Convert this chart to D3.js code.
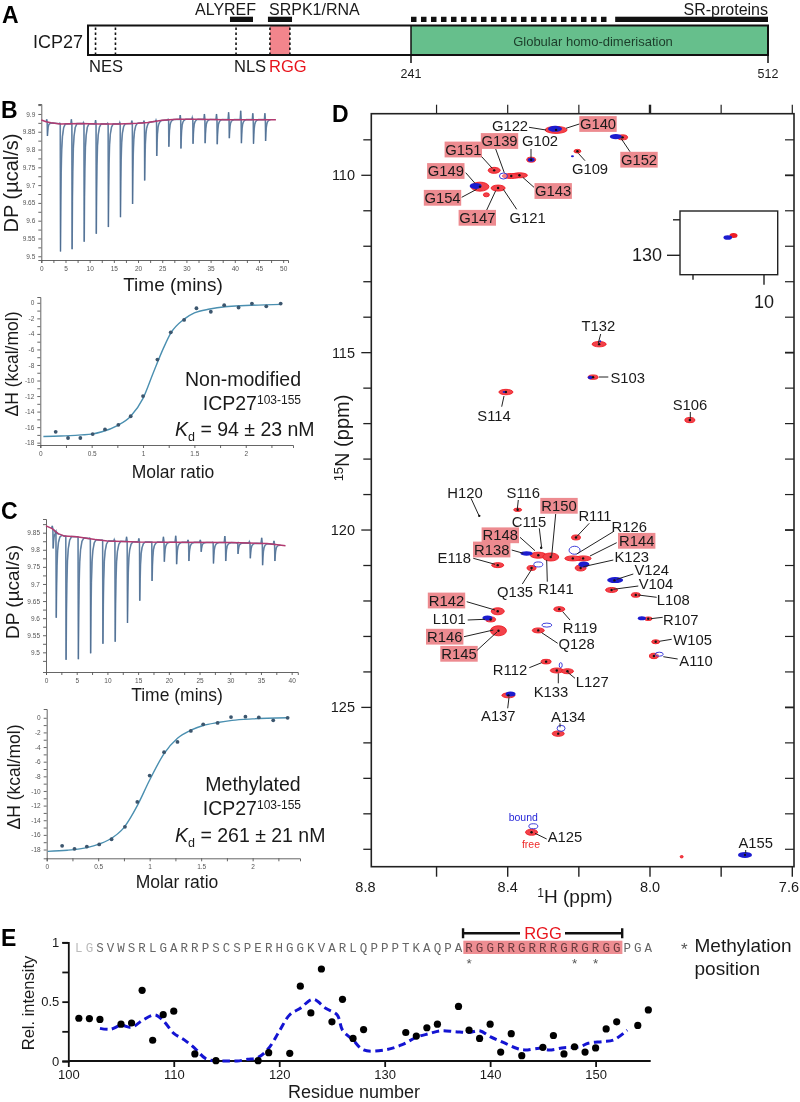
<!DOCTYPE html>
<html><head><meta charset="utf-8">
<script src="https://cdn.jsdelivr.net/npm/d3@7"></script>
<style>
html,body{margin:0;padding:0;background:#fff}
svg{display:block;filter:blur(.35px)}
text{font-family:"Liberation Sans",Arial,sans-serif;fill:#1a1a1a}
.itc text{font-size:6.5px;fill:#555}
.itc path,.itc line{stroke:#555;stroke-width:.9}
</style></head><body>
<div id="chart"></div>
<script>
// ---------- Panel A data (residues) ----------
const domainEdges=[1,241,512];
const dashResidues=[6.6,21.4,111,136.2,151];
const rggRange=[136.2,151];
const bindBars=[["ALYREF",106.5,123.6],["SRPK1/RNA",134.7,152.6],["SR-proteins",396,512]];
const dottedRange=[241,392];
// ---------- Panel B data ----------
const bInjT=[1.2,3.9,6.3,8.8,11.3,13.8,16.3,18.8,21.3,23.8,26.3,28.8,31.3,33.8,36.3,38.8,41.3,43.8,46.3];
const bInjMin=[9.838,9.5135,9.52,9.541,9.563,9.582,9.61,9.647,9.713,9.782,9.808,9.803,9.816,9.818,9.815,9.832,9.818,9.816,9.824];
const bInjUp=[9.885,9.874,9.885,9.876,9.883,9.874,9.876,9.881,9.881,9.883,9.885,9.897,9.89,9.9,9.9,9.905,9.909,9.902,9.902];
const bBaseT=[0,1,2,4,8,12,16,20,22,25,28,32,38,44,48.5];
const bBaseV=[9.883,9.878,9.875,9.872,9.873,9.872,9.872,9.874,9.876,9.882,9.885,9.885,9.884,9.884,9.884];
const molar=[0.15,0.27,0.39,0.51,0.63,0.76,0.88,1.0,1.14,1.27,1.4,1.52,1.66,1.79,1.93,2.06,2.2,2.34];
const bH=[-16.6,-17.4,-17.4,-16.9,-16.3,-15.7,-14.6,-12,-7.3,-3.8,-2.2,-0.7,-1.15,-0.3,-0.6,-0.1,-0.45,-0.1];
const bFitX=[0.03,0.2,0.4,0.5,0.6,0.75,0.88,1,1.1,1.2,1.27,1.4,1.5,1.65,1.8,2,2.35];
const bFitY=[-17.2,-17.15,-17,-16.9,-16.6,-15.8,-14.6,-12.3,-9,-5.8,-3.9,-2.1,-1.3,-0.8,-0.5,-0.35,-0.2];
// ---------- Panel C data ----------
const cInjT=[1.1,1.6,3.2,5.2,7.2,9.2,11.2,13.2,15.2,17.2,19.2,21.2,23.2,25.2,27.2,29.2,31.2,33.2,35.2,37.2];
const cInjMin=[9.804,9.601,9.478,9.48,9.497,9.525,9.531,9.586,9.651,9.709,9.765,9.758,9.767,9.794,9.76,9.767,9.788,9.775,9.755,9.767];
const cInjUp=[9.87,9.85,9.84,9.838,9.834,9.829,9.83,9.838,9.833,9.822,9.838,9.841,9.829,9.829,9.822,9.84,9.819,9.824,9.835,9.826];
const cBaseT=[0,1,2,3,5,8,10,15,20,30,36,39];
const cBaseV=[9.87,9.862,9.847,9.84,9.838,9.83,9.826,9.823,9.822,9.821,9.818,9.812];
const cH=[-17.5,-17.9,-17.6,-17.3,-16.6,-14.9,-11.5,-7.9,-4.7,-3.3,-1.8,-0.9,-0.7,0.1,0.15,0.05,-0.35,0];
const cFitX=[0.01,0.2,0.4,0.5,0.6,0.75,0.88,1,1.14,1.27,1.4,1.52,1.66,1.8,2,2.34];
const cFitY=[-18.25,-18.1,-17.7,-17.3,-16.7,-15,-12,-8.5,-4.9,-2.8,-1.7,-1.05,-0.65,-0.35,-0.15,0];
// shape of one injection after its minimum (time offset, share of depth remaining)
const recoverT=[0,0.07,0.14,0.25,0.4,0.65,1.0];
const recoverF=[1,0.62,0.38,0.2,0.1,0.03,0];
// ---------- Panel D data (1H ppm, 15N ppm) ----------
const redH=[8.264,8.077,8.334,8.204,8.438,8.367,8.39,8.478,8.46,8.427,8.372,8.208,8.188,8.217,8.195,8.314,8.279,8.428,8.333,8.108,8.04,8.428,8.448,8.426,8.255,8.314,8.005,7.984,7.989,8.292,8.262,8.232,8.398,8.258,8.333,8.143,8.405,7.888,8.1,7.911,8.16];
const redN=[108.72,108.93,109.56,109.32,109.86,110,110.02,110.32,110.55,110.36,119.43,120.21,120.8,120.8,121.07,120.71,120.76,120.99,121.07,121.69,121.83,122.29,122.52,122.84,122.23,122.83,122.5,123.15,123.55,123.71,123.96,123.98,124.66,125.74,128.52,114.76,116.11,116.9,121.42,129.21,115.69];
const redWide=[11,5,4.5,3.5,6,8,9,9,3,7,4,4.5,8,8,5.5,8,8,6,4.5,6,4.5,6.5,5,8,5.5,6,4,4,4.5,5,6.5,6,6.5,6,6,7,7,5,4,1.5,5];
const redTall=[3.5,2.5,2.5,1.8,3,2.5,2.5,4.5,2,3,1.7,2.5,2.5,2.5,3,3,4,2.5,2.5,2.5,2.3,3.5,2.5,5,2.5,2.5,1.8,2,2.7,2.3,2.5,2.5,2.5,2.7,3,2.7,2.7,2.6,2,1.2,2.2];
const blueH=[8.267,8.096,8.334,8.218,8.412,8.49,8.347,8.212,8.186,8.314,8.098,8.457,8.29,8.023,7.974,8.251,8.392,8.25,8.328,7.733,8.168,8.41,8.14];
const blueN=[108.69,108.91,109.56,109.46,110.02,110.3,120.66,120.57,120.97,120.97,121.41,122.48,122.68,122.49,123.5,123.81,124.62,125.59,128.35,129.16,115.7,116.11,114.68];
const blueWide=[7,6,3.5,1.5,4,6,6,5.5,5.5,4.5,8,5,5,4,4,1.5,5,4,4.5,7,2.5,1.5,1];
const blueTall=[3,2.7,2,1,3,3,2.3,4,3,2.5,3,2.5,2,2,2,2.5,2.5,3,2.5,3,1.7,1,1];
const blueOpen=[0,0,0,0,1,0,0,1,0,1,0,0,1,0,1,1,0,1,1,0,0,0,0];
const dotExtraH=[8.48,8.306];
const dotExtraN=[119.6,120.5];
const insetRedH=[10.086];const insetRedN=[129.44];
const insetBlueH=[10.102];const insetBlueN=[129.5];
const highlighted=["G140","G139","G151","G152","G149","G154","G147","G143","R150","R148","R138","R144","R142","R146","R145"];
// ---------- Panel E data ----------
const residues=[101,102,103,105,106,107,108,109,110,112,114,118,119,121,122,123,124,125,126,127,128,132,133,134,135,137,138,139,140,141,142,143,145,146,147,148,149,150,151,152,154,155];
const intensity=[.36,.357,.35,.31,.32,.595,.175,.39,.42,.06,.003,.003,.07,.065,.63,.405,.775,.33,.52,.19,.265,.24,.21,.28,.31,.46,.26,.19,.31,.075,.23,.045,.115,.215,.06,.12,.075,.11,.27,.33,.30,.43];
const avgRes=[103,104,105,106,107,108.2,109,110,111,112,113,114,115,116,117,118,119,120,121,122,123.2,124.4,125.5,126,127,128,130,131.6,133,134.2,135.3,136.7,138,139,140,141.3,142.5,143.3,144.7,145.6,147,148.5,149.3,150.7,151.7,153];
const avgVal=[.275,.267,.3,.284,.34,.388,.34,.233,.178,.107,.022,0,0,0,.014,.03,.107,.25,.39,.445,.52,.445,.387,.26,.177,.093,.093,.135,.2,.23,.255,.247,.24,.255,.205,.154,.107,.093,.107,.093,.112,.12,.15,.163,.177,.26];
const sequence="LGSVWSRLGARRPSCSPERHGGKVARLQPPPTKAQPARGGRRGRRRGRGRGGPGA";
const seqStart=101;
const methylated=[138,148,150];
const rggResidues=[138,152];

// ---------- Layout ----------
const W=800,H=1102;
const svg=d3.select("#chart").append("svg").attr("width",W).attr("height",H);
function txt(g,x,y,s,size,opt={}){
  const t=g.append("text").attr("x",x).attr("y",y).text(s).style("font-size",size+"px");
  if(opt.anchor)t.attr("text-anchor",opt.anchor);
  if(opt.fill)t.style("fill",opt.fill);
  if(opt.weight)t.style("font-weight",opt.weight);
  if(opt.rot!==undefined)t.attr("transform",`rotate(${opt.rot} ${x} ${y})`);
  if(opt.mid)t.attr("dominant-baseline","central");
  return t;
}
[["A",2,23],["B",1,118],["C",1,519],["D",332,122],["E",1,946]].forEach(d=>txt(svg,d[1],d[2],d[0],23,{weight:"bold",fill:"#000"}));

// ---------- Panel A ----------
(function(){
 const g=svg.append("g");
 const x=d3.scaleLinear().domain(domainEdges).range([88,411,768]);
 const top=25.5,bot=55;
 g.append("rect").attr("x",x(241)).attr("y",top).attr("width",x(512)-x(241)).attr("height",bot-top).attr("fill","#66bf8c");
 g.append("rect").attr("x",x(rggRange[0])).attr("y",top).attr("width",x(rggRange[1])-x(rggRange[0])).attr("height",bot-top).attr("fill","#f2858c");
 g.append("rect").attr("x",x(1)).attr("y",top).attr("width",x(512)-x(1)).attr("height",bot-top).attr("fill","none").attr("stroke","#111").attr("stroke-width",2);
 g.append("line").attr("x1",x(241)).attr("x2",x(241)).attr("y1",top).attr("y2",bot+8).attr("stroke","#111").attr("stroke-width",1.5);
 g.append("line").attr("x1",x(512)).attr("x2",x(512)).attr("y1",top).attr("y2",bot+8).attr("stroke","#111").attr("stroke-width",1.5);
 g.selectAll(".dash").data(dashResidues).join("line").attr("x1",d=>x(d)).attr("x2",d=>x(d)).attr("y1",top+2).attr("y2",bot-1)
  .attr("stroke","#111").attr("stroke-width",1.6).attr("stroke-dasharray","2.5 2.5");
 g.selectAll(".bb").data(bindBars).join("rect").attr("x",d=>x(d[1])).attr("width",d=>x(d[2])-x(d[1])).attr("y",16.7).attr("height",5.3).attr("fill","#111");
 g.append("line").attr("x1",x(dottedRange[0])).attr("x2",x(dottedRange[1])).attr("y1",19.3).attr("y2",19.3).attr("stroke","#111").attr("stroke-width",5.3).attr("stroke-dasharray","5.5 4.5");
 txt(g,195,14.5,"ALYREF",16);txt(g,269,14.5,"SRPK1/RNA",16);txt(g,768,14.5,"SR-proteins",16,{anchor:"end"});
 txt(g,83,48,"ICP27",18,{anchor:"end"});
 txt(g,89,72,"NES",16.5);txt(g,234,72,"NLS",16.5);txt(g,269,72,"RGG",16.5,{fill:"#e8141c"});
 txt(g,411,78,"241",12.5,{anchor:"middle"});txt(g,768,78,"512",12.5,{anchor:"middle"});
 txt(g,593,46,"Globular homo-dimerisation",13,{anchor:"middle",fill:"#1c3d2a"});
})();

// ---------- ITC panels ----------
function thermogram(o){
 const g=svg.append("g").attr("class","itc");
 const x=d3.scaleLinear().domain(o.xd).range(o.xr), y=d3.scaleLinear().domain(o.yd).range(o.yr);
 g.append("g").attr("transform",`translate(0,${o.yr[0]})`).call(d3.axisBottom(x).tickValues(d3.range(0,o.xd[1]+.1,2.5)).tickSize(3).tickFormat(d=>d%5===0?d:""));
 g.append("g").attr("transform",`translate(${o.xr[0]},0)`).call(d3.axisLeft(y).tickValues(d3.range(o.ymin,o.yd[1]+1e-6,0.025)).tickSize(3).tickFormat(d=>Math.round(d*1000)%50===0?(+d.toFixed(2)).toString():""));
 const base=d3.scaleLinear().domain(o.baseT).range(o.baseV);
 const pts=[];
 o.t.forEach((t,i)=>{
  pts.push([t-0.18,base(t-0.18)]);pts.push([t-0.08,o.up[i]]);pts.push([t+0.02,base(t)]);pts.push([t+0.07,o.min[i]]);
  recoverT.forEach((r,j)=>{ if(j>0) pts.push([t+0.07+r*o.rec,base(t+0.07+r)-(base(t)-o.min[i])*recoverF[j]]);});
 });
 const line=d3.line().x(d=>x(d[0])).y(d=>y(d[1]));
 g.append("path").attr("d",line(pts)).style("fill","none").style("stroke","#7d9ab8").style("stroke-width",1.6);
 g.append("path").attr("d",line(pts)).style("fill","none").style("stroke","#46648a").style("stroke-width",.6);
 g.append("path").attr("d",line(o.baseT.map((t,i)=>[t,o.baseV[i]]))).style("fill","none").style("stroke","#b23a70").style("stroke-width",1.5);
}
thermogram({xd:[0,51],xr:[41.3,288],yd:[9.4895,9.928],yr:[260,104],ymin:9.5,t:bInjT,min:bInjMin,up:bInjUp,baseT:bBaseT,baseV:bBaseV,rec:1});
thermogram({xd:[0,41],xr:[46,297.8],yd:[9.4425,9.89],yr:[672,519],ymin:9.475,t:cInjT,min:cInjMin,up:cInjUp,baseT:cBaseT,baseV:cBaseV,rec:.9});
function isotherm(o){
 const g=svg.append("g").attr("class","itc");
 const x=d3.scaleLinear().domain([0,o.xmax]).range(o.xr), y=d3.scaleLinear().domain(o.yd).range(o.yr);
 g.append("g").attr("transform",`translate(0,${o.yr[0]})`).call(d3.axisBottom(x).tickValues(d3.range(0,o.xmax,.25)).tickSize(3).tickFormat(d=>d%.5===0?d:""));
 g.append("g").attr("transform",`translate(${o.xr[0]},0)`).call(d3.axisLeft(y).tickValues(d3.range(-18,0.1,1)).tickSize(3).tickFormat(d=>d%2===0?d:""));
 g.append("path").attr("d",d3.line().curve(d3.curveMonotoneX).x((d,i)=>x(d)).y((d,i)=>y(o.fy[i]))(o.fx)).style("fill","none").style("stroke","#4a8fb0").style("stroke-width",1.4);
 g.selectAll("circle").data(o.h).join("circle").attr("cx",(d,i)=>x(molar[i])).attr("cy",d=>y(d)).attr("r",1.9).attr("fill","#3c566e");
}
isotherm({xmax:2.46,xr:[40.3,293],yd:[-18.3,0.75],yr:[445,297],fx:bFitX,fy:bFitY,h:bH});
isotherm({xmax:2.46,xr:[46.7,300],yd:[-19.2,1.2],yr:[858.3,709],fx:cFitX,fy:cFitY,h:cH});
// ITC text
(function(){
 const g=svg.append("g");
 const lab=(x,y,s,sz,rot)=>txt(g,x,y,s,sz,{anchor:"middle",rot});
 lab(18,183,"DP (µcal/s)",20,-90);lab(173,291,"Time (mins)",19);
 lab(18,364,"ΔH (kcal/mol)",17.5,-90);lab(173,478,"Molar ratio",17.5);
 lab(19,592,"DP (µcal/s)",19,-90);lab(177,701,"Time (mins)",17.5);
 lab(20,777,"ΔH (kcal/mol)",17.5,-90);lab(177,888,"Molar ratio",17.5);
 const anno=(cx,y1,l1,xr,y2,xk,y3,kd)=>{
  txt(g,cx,y1,l1,19.5,{anchor:"middle"});
  const t=txt(g,xr,y2,"ICP27",19.5,{anchor:"end"});t.append("tspan").text("103-155").attr("dy",-6).style("font-size","12px");
  const k=txt(g,xk,y3,"",19.5);
  k.append("tspan").text("K").style("font-style","italic");
  k.append("tspan").text("d").attr("dy",5).style("font-size","12.5px");
  k.append("tspan").text(" = "+kd).attr("dy",-5);
 };
 anno(243,386,"Non-modified",301,410,175,436,"94 ± 23 nM");
 anno(253,791,"Methylated",301,815,175,842,"261 ± 21 nM");
})();

// ---------- Panel D ----------
(function(){
 const g=svg.append("g");
 const fr={l:371.3,r:794,t:113.7,b:866.7};
 const x=d3.scaleLinear().domain([8.4,8.0]).range([507.7,650]);
 const y=d3.scaleLinear().domain([110,125]).range([175.3,707.4]);
 // peaks
 const red=g.append("g"),blue=g.append("g"),dots=g.append("g");
 red.selectAll("ellipse").data(redH).join("ellipse").attr("cx",d=>x(d)).attr("cy",(d,i)=>y(redN[i])).attr("rx",(d,i)=>redWide[i]).attr("ry",(d,i)=>redTall[i]).attr("fill","#f2424a").attr("stroke","#ee1c25").attr("stroke-width",.9);
 blue.selectAll("ellipse").data(blueH).join("ellipse").attr("cx",d=>x(d)).attr("cy",(d,i)=>y(blueN[i])).attr("rx",(d,i)=>blueWide[i]).attr("ry",(d,i)=>blueTall[i])
  .attr("fill",(d,i)=>blueOpen[i]?"#fff":"#1c1ccf").attr("fill-opacity",(d,i)=>blueOpen[i]?.35:1).attr("stroke","#2a2ad6").attr("stroke-width",(d,i)=>blueOpen[i]?.9:0);
 const dotIdx=d3.range(redH.length).filter(i=>redWide[i]>2&&redWide[i]!==3);
 dots.selectAll(".d").data(dotIdx).join("circle").attr("cx",i=>x(redH[i])).attr("cy",i=>y(redN[i])).attr("r",1.2).attr("fill","#111");
 dots.selectAll(".e").data(dotExtraH).join("circle").attr("cx",d=>x(d)).attr("cy",(d,i)=>y(dotExtraN[i])).attr("r",1.2).attr("fill","#111");
 dots.append("circle").attr("cx",x(7.733)).attr("cy",y(129.16)).attr("r",1.1).attr("fill","#111");
 // frame
 g.append("rect").attr("x",fr.l).attr("y",fr.t).attr("width",fr.r-fr.l).attr("height",fr.b-fr.t).attr("fill","none").attr("stroke","#222").attr("stroke-width",1.6);
 const xt=[8.6,8.4,8.2,8.0,7.8,7.6];
 const yt=d3.range(109,130);
 g.selectAll(".xb").data(xt).join("line").attr("x1",d=>x(d)).attr("x2",d=>x(d)).attr("y1",fr.b).attr("y2",fr.b+10).attr("stroke","#222").attr("stroke-width",1.4);
 g.selectAll(".xtp").data(xt).join("line").attr("x1",d=>x(d)).attr("x2",d=>x(d)).attr("y1",fr.t).attr("y2",fr.t-9).attr("stroke","#222").attr("stroke-width",d=>d===8?2.4:1.2);
 g.selectAll(".yl").data(yt).join("line").attr("x1",fr.l).attr("x2",d=>fr.l-(d%5===0?10:8)).attr("y1",d=>y(d)).attr("y2",d=>y(d)).attr("stroke","#222").attr("stroke-width",1.3);
 g.selectAll(".yr").data(yt).join("line").attr("x1",fr.r).attr("x2",fr.r-9).attr("y1",d=>y(d)).attr("y2",d=>y(d)).attr("stroke","#222").attr("stroke-width",d=>d%5===0?1.8:1.2);
 [110,115,120,125].forEach(d=>txt(g,355,y(d),d,14.5,{anchor:"end",mid:true}));
 [8.8,8.4,8.0].forEach(d=>txt(g,x(d),886.5,d.toFixed(1),14.5,{anchor:"middle",mid:true}));
 txt(g,799,886.5,(7.6).toFixed(1),14.5,{anchor:"end",mid:true});
 const xl=txt(g,575,903,"",19,{anchor:"middle"});xl.append("tspan").text("1").style("font-size","12px").attr("dy",-6);xl.append("tspan").text("H (ppm)").attr("dy",6);
 const yl=txt(g,349,438,"",20,{anchor:"middle",rot:-90});yl.append("tspan").text("15").style("font-size","13px").attr("dy",-6);yl.append("tspan").text("N (ppm)").attr("dy",6);
 // inset
 const ix=d3.scaleLinear().domain([10.2,10]).range([693,764]);
 const iy=d3.scaleLinear().domain([129,130]).range([219.8,255.3]);
 g.append("rect").attr("x",680).attr("y",211).attr("width",97.7).attr("height",63.7).attr("fill","#fff").attr("stroke","#222").attr("stroke-width",1.4);
 g.selectAll(".ir").data(insetRedH).join("ellipse").attr("cx",d=>ix(d)).attr("cy",(d,i)=>iy(insetRedN[i])).attr("rx",4).attr("ry",2.5).attr("fill","#ee1c25");
 g.selectAll(".ib").data(insetBlueH).join("ellipse").attr("cx",d=>ix(d)).attr("cy",(d,i)=>iy(insetBlueN[i])).attr("rx",4.3).attr("ry",2.3).attr("fill","#1c1ccf");
 [[129,7],[130,13]].forEach(d=>g.append("line").attr("x1",680).attr("x2",680-d[1]).attr("y1",iy(d[0])).attr("y2",iy(d[0])).attr("stroke","#222").attr("stroke-width",1.4));
 [[10.2,5],[10,10]].forEach(d=>g.append("line").attr("x1",ix(d[0])).attr("x2",ix(d[0])).attr("y1",274.7).attr("y2",274.7+d[1]).attr("stroke","#222").attr("stroke-width",1.4));
 txt(g,662,255,"130",18,{anchor:"end",mid:true});txt(g,764,302,"10",18,{anchor:"middle",mid:true});
 // labels: name, text centre, leader start, leader end (annotation layout)
 const labelLayout=[
 ["G122",510,126,529,127.3,546,130],["G140",598,124,579.3,124,566,128.3],["G139",499.5,141,495.7,149,504.3,172.7],["G102",540,141.3,531,149,531,158.3],
 ["G151",463.3,149.5,481.7,156.7,492.3,168.3],["G109",590,169.3,585,160.7,578.3,153.3],["G152",639,159.7,630,151.7,621,138.3],["G149",445.8,171,465.7,172.7,475,183.3],
 ["G154",442.5,197.8,461.7,197.3,476.7,189.3],["G147",477.3,217.8,486.7,210,495.7,190.7],["G121",527.7,218.3,516.7,209.3,503.3,189.3],["G143",553.2,191,534,187.3,522.7,177.3],
 ["H120",465,492.7,471,498.3,478.7,515],["S116",523.3,492.7,518.3,500,517.3,509.3],["R150",559,505.8,555.7,514,551.7,556],["R111",595,515.7,589.3,523.3,576.7,536.7],
 ["R126",629.3,526.7,613.3,531.7,576.7,554],["C115",529,521.7,539.3,528.3,541.7,548.3],["R148",500.3,535.3,520,537.3,535,550.7],["R138",491.7,549.5,511.7,550,523.3,553.3],
 ["R144",636.7,540.8,616.7,542.7,590,556],["K123",631.7,557.3,613.3,560,583.3,566.7],["E118",454.3,558.3,473.3,558.3,495,564.3],["V124",651.7,570,633.3,574,616.7,579.3],
 ["V104",656,584.3,638.3,586,613.3,589.3],["L108",673.3,600,656.7,597.3,638.3,595],["Q135",515,592.3,522.3,584,531.7,569.3],["R141",556,589,547.3,581.7,546.7,560],
 ["R142",446.5,600.5,466.7,601.7,495,610],["L101",449.3,619.3,467.7,620,485,619.3],["R146",444.7,636.7,464,636.7,493.3,630],["R145",459,653.8,476.7,650.7,497,632],
 ["R119",580,627.7,570,620,562.7,611.7],["Q128",576.7,644.3,557.7,643.3,541.7,632.7],["R107",680.7,620,662.7,617.3,650.7,618.7],["W105",692.7,640,671.7,639.3,659.3,641.3],
 ["A110",696,660.7,677.7,659,663.3,656.7],["R112",510,670,529.3,667.7,541.7,662.7],["K133",551,691.7,558.3,683.3,558.3,673.3],["L127",592.3,682.3,575,678.3,567.7,672.3],
 ["A137",498.3,716,507.7,708.3,509,697.3],["A134",568.3,716.7,560,723.3,560,727.3],["A125",565,836.7,546.7,839,535,833.3],["A155",755.7,842.7,745.7,850,745.7,853],
 ["T132",598.3,326,600.7,334,598.3,343],["S103",627.7,378.3,608.3,377,599,377],["S106",690,405,690.3,412,690.3,418.5],["S114",494,416,504,396,501.7,406.7]];
 const lg=g.append("g");
 lg.selectAll("rect").data(labelLayout.filter(d=>highlighted.includes(d[0]))).join("rect").attr("x",d=>d[1]-18.7).attr("y",d=>d[2]-7.9).attr("width",37.4).attr("height",15.8).attr("fill","#ed8b90");
 lg.selectAll("line").data(labelLayout).join("line").attr("x1",d=>d[3]).attr("y1",d=>d[4]).attr("x2",d=>d[5]).attr("y2",d=>d[6]).attr("stroke","#222").attr("stroke-width",1);
 lg.selectAll("text").data(labelLayout).join("text").attr("x",d=>d[1]).attr("y",d=>d[2]).attr("text-anchor","middle").attr("dominant-baseline","central").style("font-size","14.8px").text(d=>d[0]);
 txt(g,523.3,817.3,"bound",10.5,{anchor:"middle",mid:true,fill:"#2626d8"});
 txt(g,531,844,"free",10.5,{anchor:"middle",mid:true,fill:"#ee2a2a"});
})();

// ---------- Panel E ----------
(function(){
 const g=svg.append("g");
 const x=d3.scaleLinear().domain([100,150]).range([68.3,595.6]);
 const y=d3.scaleLinear().domain([0,1]).range([1061,942.3]);
 const ax=g.append("g").attr("transform","translate(0,1061)").call(d3.axisBottom(x).tickValues(d3.range(100,151,10)).tickSize(6).tickPadding(3).tickFormat(d=>d));
 ax.select(".domain").attr("d",`M${x(100)},0H650.7`);
 ax.selectAll("line,path").attr("stroke","#111").attr("stroke-width",1.8);
 ax.selectAll("text").style("font-size","13px").attr("font-family",null);
 const ay=g.append("g").attr("transform",`translate(${x(100)},0)`).call(d3.axisLeft(y).tickValues([0,.25,.5,.75,1]).tickSize(6).tickPadding(3).tickFormat(d=>d%.5===0?d:""));
 ay.selectAll("line,path").attr("stroke","#111").attr("stroke-width",1.8);
 ay.selectAll("text").style("font-size","13px").attr("font-family",null);
 g.append("path").attr("d",d3.line().curve(d3.curveCatmullRom).x((d,i)=>x(d)).y((d,i)=>y(avgVal[i]))(avgRes)).attr("fill","none").attr("stroke","#1414d2").attr("stroke-width",3).attr("stroke-dasharray","7.5 4.5");
 g.selectAll("circle").data(residues).join("circle").attr("cx",d=>x(d)).attr("cy",(d,i)=>y(intensity[i])).attr("r",3.6).attr("fill","#000");
 txt(g,34,1003,"Rel. intensity",16.5,{anchor:"middle",rot:-90});
 txt(g,354,1098,"Residue number",18,{anchor:"middle"});
 // sequence
 g.append("rect").attr("x",x(rggResidues[0])-5.7).attr("y",940.7).attr("width",x(rggResidues[1])-x(rggResidues[0])+11.4).attr("height",13.3).attr("fill","#ee8d92");
 const chars=sequence.split("");
 g.selectAll(".s").data(chars).join("text").attr("x",(d,i)=>x(seqStart+i)).attr("y",951.5)
  .attr("text-anchor","middle").style("font-family","'Liberation Mono','DejaVu Sans Mono',monospace").style("font-size","12.5px")
  .style("fill",(d,i)=>i<2?"#bbb":(seqStart+i>=138&&seqStart+i<=152?"#6a3a3d":"#666")).text(d=>d);
 g.selectAll(".st").data(methylated).join("text").attr("x",d=>x(d)).attr("y",967.5).attr("text-anchor","middle").style("font-size","13.5px").style("fill","#555").text("*");
 const bx=[x(rggResidues[0])-6,x(rggResidues[1])+5.5],by=933.3;
 g.append("path").attr("d",`M${bx[0]},${by-5}V${by+5}M${bx[0]},${by}H520M565,${by}H${bx[1]}M${bx[1]},${by-5}V${by+5}`).attr("fill","none").attr("stroke","#111").attr("stroke-width",2.4);
 txt(g,543,939,"RGG",16.5,{anchor:"middle",fill:"#e8141c"});
 txt(g,681,955,"*",17,{fill:"#555"});
 txt(g,694.5,952,"Methylation",19);txt(g,694.5,975,"position",19);
})();
</script></body></html>
